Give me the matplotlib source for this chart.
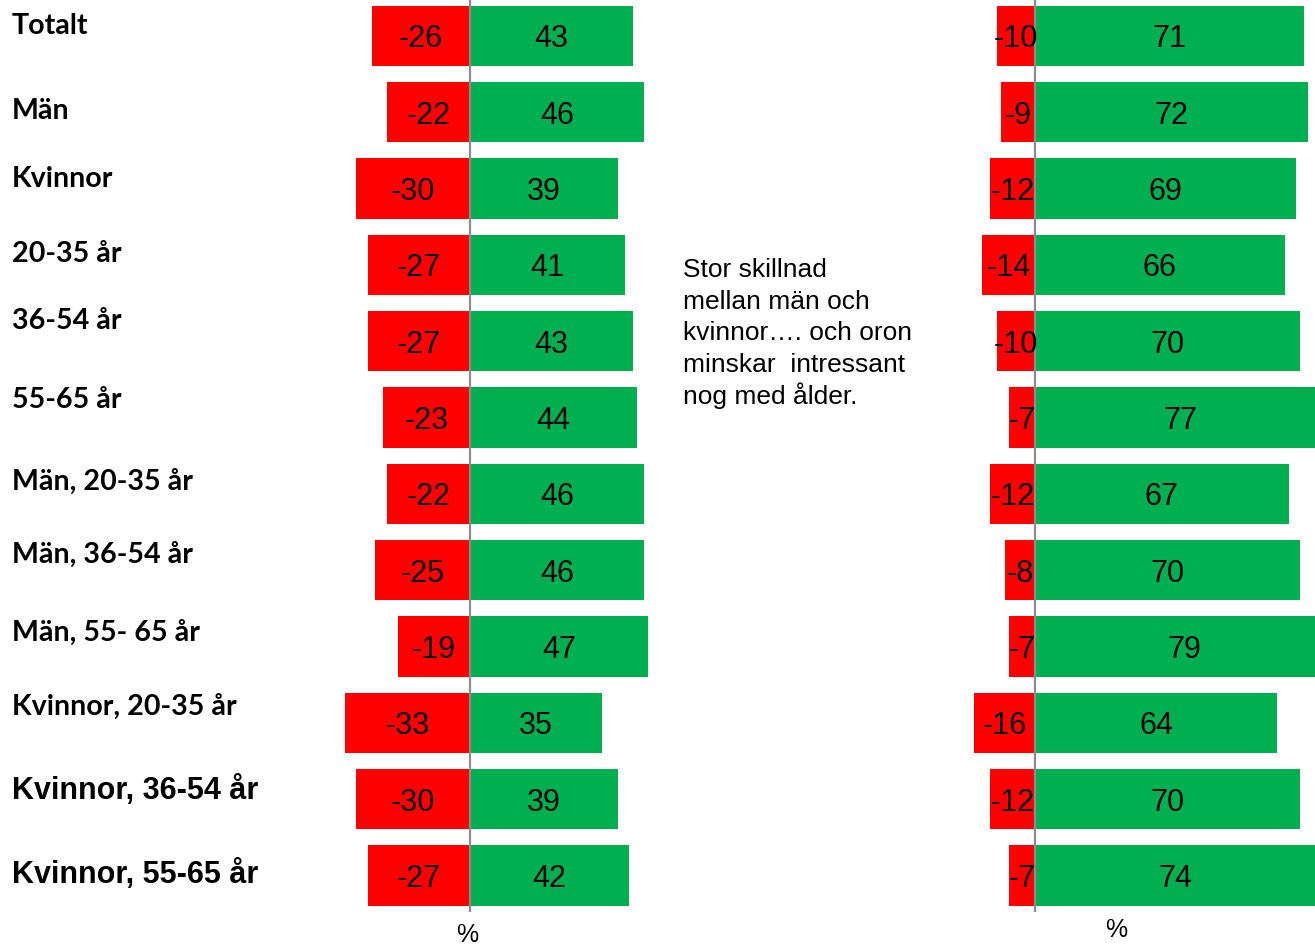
import matplotlib
matplotlib.use('Agg')
import matplotlib.pyplot as plt

# Data
categories = ['Totalt', 'Män', 'Kvinnor', '20-35 år', '36-54 år', '55-65 år',
              'Män, 20-35 år', 'Män, 36-54 år', 'Män, 55- 65 år',
              'Kvinnor, 20-35 år', 'Kvinnor, 36-54 år', 'Kvinnor, 55-65 år']
left_neg = [-26, -22, -30, -27, -27, -23, -22, -25, -19, -33, -30, -27]
left_pos = [43, 46, 39, 41, 43, 44, 46, 46, 47, 35, 39, 42]
right_neg = [-10, -9, -12, -14, -10, -7, -12, -8, -7, -16, -12, -7]
right_pos = [71, 72, 69, 66, 70, 77, 67, 70, 79, 64, 70, 74]

note_lines = ['Stor skillnad', 'mellan män och', 'kvinnor…. och oron',
              'minskar  intressant', 'nog med ålder.']

RED = '#FF0000'
GREEN = '#00B050'
W, H = 1315, 947
PX_PER_UNIT = 3.785

# layout (pixels)
label_nudge = [-13, -4, -13, -14, -23, -21, -15, -18, -17, -19, -12, -4]
big_labels = {'Kvinnor, 36-54 år', 'Kvinnor, 55-65 år'}

fig = plt.figure(figsize=(W / 100, H / 100), dpi=100)


def make_panel(x0, x1, zero_px, neg, pos):
    ax = fig.add_axes([x0 / W, 1 - 912 / H, (x1 - x0) / W, 912 / H])
    ax.set_xlim((x0 - zero_px) / PX_PER_UNIT, (x1 - zero_px) / PX_PER_UNIT)
    ax.set_ylim(11.48, -0.472)
    ys = list(range(len(categories)))
    ax.barh(ys, neg, height=0.79, color=RED, edgecolor='none')
    ax.barh(ys, pos, height=0.79, color=GREEN, edgecolor='none')
    ax.axvline(0, color='#8C8C8C', lw=1.6)
    for y, n, p in zip(ys, neg, pos):
        ax.text(n / 2, y + 0.045, str(n), ha='center', va='center', fontsize=22,
                family='Liberation Sans', clip_on=False)
        ax.text(p / 2, y + 0.045, str(p), ha='center', va='center', fontsize=22,
                family='Liberation Sans', clip_on=False)
    ax.axis('off')
    return ax


ax_l = make_panel(300, 680, 470, left_neg, left_pos)
ax_r = make_panel(940, 1315, 1035, right_neg, right_pos)

# category labels at the far left
for i, (cat, dy) in enumerate(zip(categories, label_nudge)):
    if cat in big_labels:
        fam, size = 'Liberation Sans', 22
    else:
        fam, size = 'Lato', 20.6
    ax_l.annotate(cat, xy=(12 / W, i), xycoords=('figure fraction', 'data'),
                  xytext=(0, -(dy + 3) * 0.72), textcoords='offset points',
                  ha='left', va='center', fontsize=size, fontweight='bold',
                  family=fam, annotation_clip=False)

fig.text(467 / W, 1 - 935 / H, '%', ha='center', va='center', fontsize=18,
         family='Liberation Sans')
fig.text(1116 / W, 1 - 930 / H, '%', ha='center', va='center', fontsize=18,
         family='Liberation Sans')

# side note, one line at a time for even spacing
for k, line in enumerate(note_lines):
    fig.text(683 / W, 1 - (277 + 31.75 * k) / H, line, ha='left',
             va='baseline', fontsize=19, family='Liberation Sans')

fig.savefig('out.png', dpi=100)
